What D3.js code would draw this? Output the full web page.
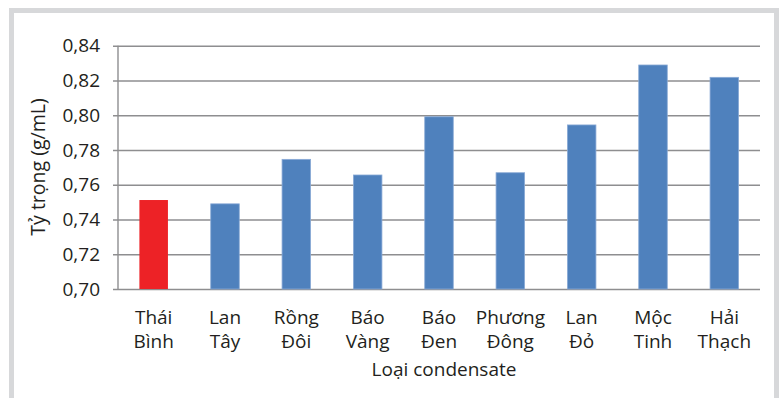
<!DOCTYPE html>
<html>
<head>
<meta charset="utf-8">
<script src="https://cdn.jsdelivr.net/npm/d3@7"></script>
<style>
  html, body { margin: 0; padding: 0; background: #fff; }
  svg text { font-family: "Open Sans", "Noto Sans", sans-serif; fill: #231f20; }
</style>
</head>
<body>
<svg id="chart" width="779" height="398"></svg>
<script>
// Density of condensate samples
const categories = [
  ["Thái", "Bình"], ["Lan", "Tây"], ["Rồng", "Đôi"], ["Báo", "Vàng"], ["Báo", "Đen"],
  ["Phương", "Đông"], ["Lan", "Đỏ"], ["Mộc", "Tinh"], ["Hải", "Thạch"]
];
const density = [0.7512, 0.749, 0.7746, 0.7656, 0.7991, 0.7669, 0.7944, 0.8289, 0.8218];
const highlighted = [true, false, false, false, false, false, false, false, false];
const yTicks = [0.70, 0.72, 0.74, 0.76, 0.78, 0.80, 0.82, 0.84];
const yTitle = "Tỷ trọng (g/mL)";
const xTitle = "Loại condensate";

const svg = d3.select("#chart");
const W = 779, H = 398;
const m = { left: 118, right: 19, top: 45.7, bottom: 109 };

// outer frame
svg.append("rect")
  .attr("x", 11.5).attr("y", 10.5)
  .attr("width", W - 11.5 - 2.5).attr("height", H)
  .attr("fill", "none").attr("stroke", "#d7d8da").attr("stroke-width", 5);

const x = d3.scaleBand()
  .domain(d3.range(categories.length))
  .range([m.left, W - m.right])
  .paddingInner(0.6).paddingOuter(0.3);

const y = d3.scaleLinear()
  .domain([0.70, 0.84])
  .range([H - m.bottom, m.top]);

const fmt = d => d.toFixed(2).replace(".", ",");

// gridlines + y axis
const yAxis = d3.axisLeft(y)
  .tickValues(yTicks)
  .tickFormat(fmt)
  .tickSize(-(W - m.right - m.left))
  .tickPadding(18);

const gy = svg.append("g")
  .attr("transform", `translate(${m.left},0)`)
  .call(yAxis);
gy.select(".domain").remove();
gy.selectAll(".tick line")
  .attr("x1", -5)
  .attr("stroke", "#8e8e90").attr("stroke-width", 1.4);
gy.selectAll(".tick text")
  .attr("font-size", 19).attr("fill", "#231f20");

// vertical axis line
svg.append("line")
  .attr("x1", m.left).attr("x2", m.left)
  .attr("y1", y(0.84)).attr("y2", y(0.70))
  .attr("stroke", "#8e8e90").attr("stroke-width", 1.4);

// bars
svg.append("g").selectAll("rect")
  .data(density)
  .join("rect")
  .attr("x", (d, i) => x(i))
  .attr("width", x.bandwidth())
  .attr("y", d => y(d))
  .attr("height", d => y(0.70) - y(d))
  .attr("fill", (d, i) => highlighted[i] ? "#ed2226" : "#4f81bd")
  .attr("stroke", (d, i) => highlighted[i] ? "none" : "#8aaad6")
  .attr("stroke-width", 0.8);

// category labels (two lines)
const gx = svg.append("g");
categories.forEach((lines, i) => {
  const cx = x(i) + x.bandwidth() / 2;
  const t = gx.append("text")
    .attr("x", cx)
    .attr("y", 324)
    .attr("text-anchor", "middle")
    .attr("font-size", 19);
  lines.forEach((s, k) => {
    t.append("tspan")
      .attr("x", cx)
      .attr("dy", k === 0 ? 0 : 23.5)
      .text(s);
  });
});

// axis titles
svg.append("text")
  .attr("x", 444)
  .attr("y", 376)
  .attr("text-anchor", "middle")
  .attr("font-size", 19)
  .text(xTitle);

svg.append("text")
  .attr("transform", `translate(45,167) rotate(-90)`)
  .attr("text-anchor", "middle")
  .attr("font-size", 19.5)
  .text(yTitle);
</script>
</body>
</html>
